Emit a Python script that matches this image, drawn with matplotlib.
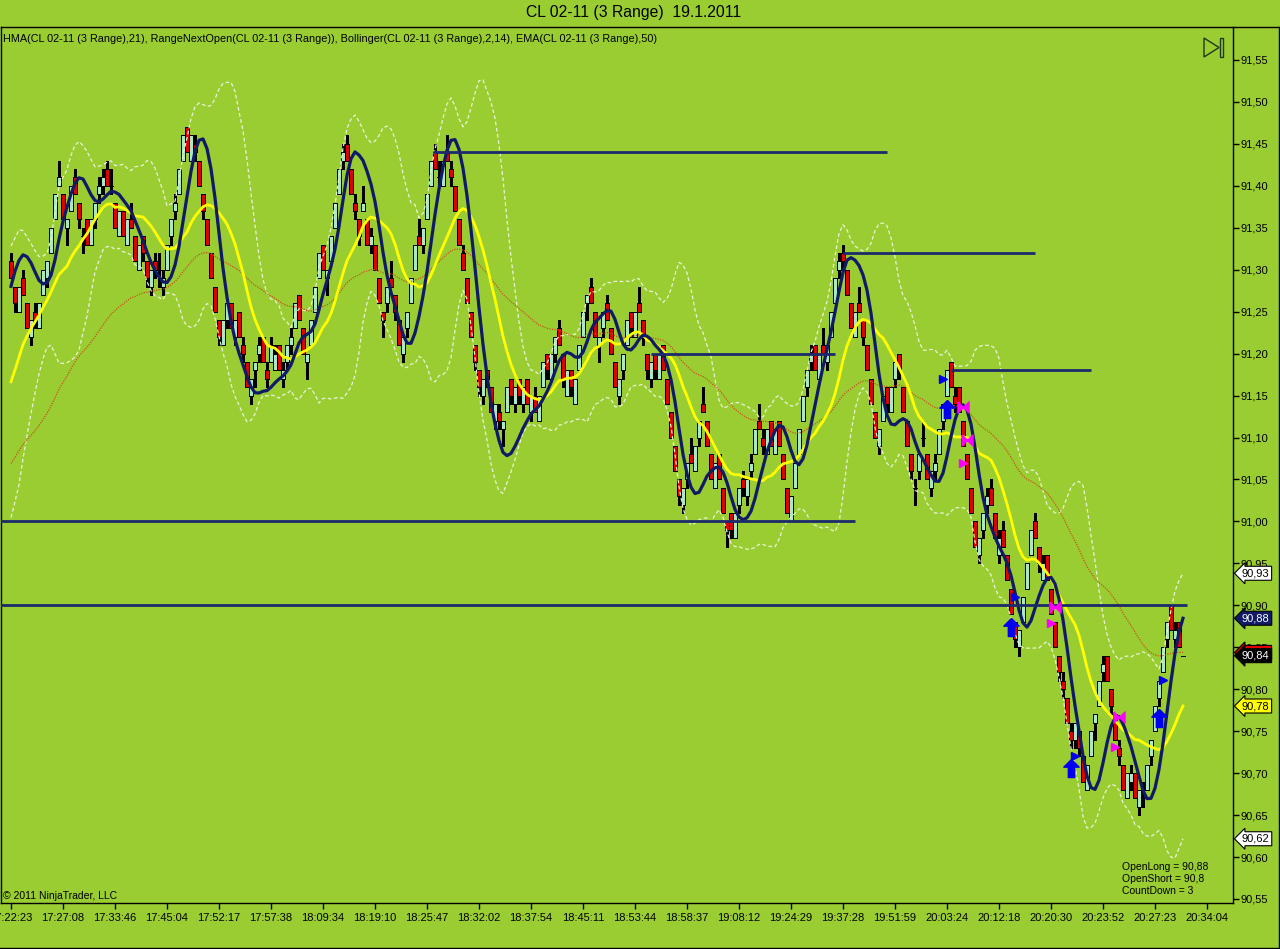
"""
CL 02-11 (3 Range) chart, 19.1.2011 - NinjaTrader style range-bar chart
with HMA(21), Bollinger(2,14), EMA(50) and RangeNextOpen markers.
"""
import numpy as np
import pandas as pd
import matplotlib
matplotlib.use("Agg")
import matplotlib.pyplot as plt
from matplotlib.path import Path
from matplotlib.patches import Polygon, Rectangle
from matplotlib.lines import Line2D

plt.rcParams["font.family"] = ["Liberation Sans", "DejaVu Sans"]

# ---- bar data, in cents above 90.00 --------------------------------------
bar_open = [
    131, 128, 125, 129, 126, 122, 125, 123, 127, 129,
    132, 136, 140, 139, 135, 137, 141, 138, 134, 136,
    133, 136, 139, 140, 142, 140, 138, 134, 137, 133,
    136, 134, 130, 134, 131, 128, 131, 130, 128, 130,
    134, 137, 139, 143, 147, 143, 145, 143, 139, 136,
    132, 128, 124, 121, 124, 126, 122, 125, 121, 119,
    115, 118, 120, 122, 118, 119, 118, 121, 117, 119,
    121, 123, 127, 123, 119, 121, 125, 129, 133, 129,
    131, 135, 139, 143, 145, 142, 138, 136, 137, 136,
    133, 133, 129, 125, 126, 129, 127, 124, 120, 123,
    126, 130, 134, 133, 136, 140, 144, 141, 140, 144,
    142, 140, 136, 132, 129, 125, 121, 118, 115, 118,
    116, 112, 113, 111, 113, 117, 114, 117, 114, 117,
    113, 115, 112, 116, 120, 117, 120, 123, 120, 115,
    118, 114, 118, 122, 126, 128, 125, 121, 123, 126,
    123, 119, 115, 118, 121, 125, 122, 126, 124, 120,
    117, 120, 117, 121, 117, 113, 109, 105, 102, 105,
    108, 106, 110, 114, 112, 108, 104, 108, 104, 100,
    101, 98, 102, 105, 103, 106, 108, 112, 110, 108,
    112, 108, 112, 108, 104, 100, 104, 108, 112, 116,
    119, 121, 117, 121, 119, 122, 126, 130, 132, 130,
    126, 122, 126, 124, 121, 117, 113, 109, 112, 116,
    113, 117, 120, 116, 112, 108, 104, 106, 110, 108,
    104, 106, 108, 112, 115, 119, 115, 116, 112, 108,
    104, 100, 96, 99, 102, 104, 101, 96, 99, 96,
    92, 88, 85, 88, 92, 96, 100, 97, 93, 96,
    92, 88, 84, 81, 79, 75, 74, 75, 72, 68,
    72, 76, 78, 82, 84, 80, 77, 73, 71, 67,
    69, 70, 66, 67, 68, 72, 75, 79, 82, 86,
    90, 86, 88, 84,
]
bar_close = [
    129, 126, 128, 127, 123, 124, 124, 126, 130, 131,
    135, 139, 141, 136, 136, 140, 139, 136, 134, 133,
    136, 138, 140, 141, 140, 140, 135, 137, 134, 136,
    135, 131, 133, 132, 129, 130, 130, 130, 129, 133,
    136, 138, 142, 146, 144, 146, 144, 140, 137, 133,
    129, 125, 122, 124, 126, 123, 124, 122, 120, 116,
    117, 119, 121, 119, 117, 121, 120, 118, 118, 121,
    122, 126, 124, 120, 120, 124, 128, 132, 130, 130,
    134, 138, 142, 144, 143, 139, 137, 134, 138, 133,
    134, 130, 126, 124, 128, 128, 125, 121, 122, 125,
    129, 133, 133, 135, 139, 143, 142, 141, 143, 143,
    141, 137, 133, 130, 126, 122, 119, 116, 117, 117,
    113, 114, 112, 112, 116, 115, 116, 115, 116, 114,
    115, 113, 115, 119, 118, 120, 122, 121, 117, 118,
    116, 117, 121, 125, 127, 126, 122, 122, 125, 124,
    120, 116, 117, 120, 124, 123, 125, 125, 122, 118,
    119, 118, 120, 118, 114, 110, 106, 103, 104, 107,
    107, 109, 112, 113, 109, 105, 107, 105, 101, 99,
    99, 101, 104, 104, 105, 107, 111, 111, 109, 111,
    109, 111, 109, 105, 101, 103, 107, 111, 115, 118,
    120, 118, 120, 120, 121, 125, 129, 131, 131, 127,
    123, 125, 125, 122, 118, 114, 110, 111, 115, 114,
    116, 119, 118, 113, 109, 106, 104, 108, 110, 105,
    106, 107, 111, 114, 118, 116, 114, 113, 109, 105,
    101, 97, 98, 101, 103, 102, 98, 98, 97, 93,
    89, 86, 87, 91, 95, 99, 98, 95, 95, 93,
    89, 85, 82, 80, 76, 74, 76, 73, 69, 71,
    75, 77, 81, 83, 81, 78, 74, 72, 68, 70,
    70, 67, 68, 67, 71, 74, 78, 81, 85, 88,
    87, 87, 85, 84,
]
bar_high = [
    132, 128, 128, 130, 126, 124, 126, 126, 130, 131,
    135, 139, 143, 139, 136, 140, 142, 138, 135, 136,
    136, 138, 141, 142, 143, 142, 138, 137, 137, 136,
    138, 134, 133, 134, 131, 130, 132, 132, 130, 133,
    136, 139, 142, 146, 147, 146, 146, 143, 139, 136,
    132, 128, 124, 124, 126, 126, 124, 125, 122, 119,
    117, 119, 122, 122, 119, 122, 121, 121, 119, 121,
    123, 126, 127, 123, 120, 124, 128, 132, 133, 130,
    134, 138, 142, 145, 146, 142, 139, 136, 140, 136,
    135, 133, 129, 125, 128, 131, 127, 124, 122, 125,
    129, 133, 136, 135, 139, 143, 145, 143, 143, 146,
    143, 140, 136, 133, 129, 125, 121, 118, 117, 118,
    116, 114, 114, 112, 116, 117, 116, 117, 116, 117,
    115, 116, 115, 119, 120, 120, 122, 124, 120, 118,
    118, 117, 121, 125, 127, 129, 125, 122, 125, 127,
    123, 119, 117, 120, 124, 125, 125, 128, 124, 120,
    119, 120, 120, 121, 117, 113, 109, 105, 104, 107,
    110, 109, 112, 116, 112, 108, 107, 108, 104, 100,
    101, 101, 104, 106, 105, 108, 111, 114, 111, 111,
    112, 111, 112, 108, 104, 103, 107, 111, 115, 118,
    121, 121, 120, 123, 121, 125, 129, 132, 133, 130,
    126, 125, 128, 124, 121, 117, 113, 111, 115, 116,
    116, 119, 120, 116, 112, 108, 105, 108, 112, 108,
    106, 108, 111, 114, 118, 119, 116, 116, 112, 108,
    104, 100, 98, 101, 104, 105, 101, 99, 100, 96,
    92, 88, 87, 91, 95, 99, 101, 97, 96, 96,
    92, 88, 84, 82, 79, 76, 76, 75, 72, 71,
    75, 77, 81, 84, 84, 80, 77, 74, 71, 70,
    71, 70, 68, 69, 71, 74, 78, 81, 85, 88,
    90, 88, 88, 84,
]
bar_low = [
    129, 125, 125, 127, 123, 121, 123, 123, 127, 128,
    132, 136, 140, 136, 133, 137, 139, 135, 132, 133,
    133, 135, 138, 139, 140, 139, 135, 134, 134, 133,
    135, 131, 130, 131, 128, 127, 129, 128, 127, 130,
    133, 136, 139, 143, 144, 143, 143, 140, 136, 133,
    129, 125, 121, 121, 123, 123, 121, 122, 119, 116,
    114, 116, 119, 119, 116, 119, 118, 118, 116, 118,
    120, 123, 124, 120, 117, 121, 125, 129, 130, 127,
    131, 135, 139, 142, 143, 139, 136, 133, 137, 133,
    132, 130, 126, 122, 125, 128, 124, 121, 119, 122,
    126, 130, 133, 132, 136, 140, 142, 140, 140, 143,
    140, 137, 133, 130, 126, 122, 118, 115, 114, 116,
    113, 111, 111, 109, 113, 114, 113, 114, 113, 114,
    112, 113, 112, 116, 117, 117, 119, 121, 116, 115,
    115, 114, 118, 122, 124, 126, 122, 119, 122, 124,
    120, 116, 114, 117, 121, 122, 122, 125, 121, 117,
    116, 117, 117, 118, 114, 110, 106, 102, 101, 104,
    107, 106, 109, 113, 109, 105, 104, 105, 101, 97,
    98, 98, 101, 103, 102, 105, 108, 111, 108, 108,
    109, 108, 109, 105, 101, 100, 104, 108, 112, 115,
    118, 118, 117, 120, 118, 122, 126, 129, 130, 127,
    123, 122, 125, 121, 118, 114, 110, 108, 112, 113,
    113, 116, 117, 113, 109, 105, 102, 105, 109, 105,
    103, 105, 108, 111, 115, 116, 113, 113, 109, 105,
    101, 97, 95, 98, 101, 102, 98, 95, 97, 93,
    89, 85, 84, 88, 92, 96, 98, 94, 93, 93,
    89, 85, 81, 79, 76, 73, 73, 72, 69, 68,
    72, 74, 78, 81, 81, 77, 74, 71, 68, 67,
    68, 67, 65, 66, 68, 71, 75, 78, 82, 85,
    87, 85, 85, 84,
]

# closes of the bars just before the visible window (indicator warm-up)
prior_closes = [100, 101, 99, 100, 102, 101, 103, 104, 103, 105, 104, 106,
                107, 106, 109, 111, 113, 115, 117, 119, 121, 124, 127, 129]
ema_seed = 106

# bottom axis labels, one every 13 bars
time_labels = ["17:22:23", "17:27:08", "17:33:46", "17:45:04", "17:52:17",
               "17:57:38", "18:09:34", "18:19:10", "18:25:47", "18:32:02",
               "18:37:54", "18:45:11", "18:53:44", "18:58:37", "19:08:12",
               "19:24:29", "19:37:28", "19:51:59", "20:03:24", "20:12:18",
               "20:20:30", "20:23:52", "20:27:23", "20:34:04"]
price_ticks = [90.55, 90.60, 90.65, 90.70, 90.75, 90.80, 90.85, 90.90,
               90.95, 91.00, 91.05, 91.10, 91.15, 91.20, 91.25, 91.30,
               91.35, 91.40, 91.45, 91.50, 91.55]

# drawn horizontal lines: price, first bar, last bar
hline_price = [91.44, 91.32, 91.20, 91.18, 91.00, 90.90]
hline_start = [105.5, 208, 160, 235, -3, -3]
hline_end = [219, 256, 206, 270, 211, 294]

# RangeNextOpen signals (bar index, price)
long_arrow_bar = [234, 250, 265, 287]
long_arrow_price = [91.134, 90.874, 90.706, 90.766]
long_tri_bar = [233, 251, 266, 288]
long_tri_price = [91.170, 90.910, 90.720, 90.811]
short_x_bar = [238, 239, 261, 277]
short_x_price = [91.136, 91.097, 90.898, 90.767]
short_tri_bar = [238, 260, 276]
short_tri_price = [91.070, 90.879, 90.731]

info_lines = ["OpenLong = 90,88", "OpenShort = 90,8", "CountDown = 3"]

# ---- indicators -----------------------------------------------------------
n = len(bar_close)
o = np.array(bar_open) / 100 + 90
c = np.array(bar_close) / 100 + 90
h = np.array(bar_high) / 100 + 90
l = np.array(bar_low) / 100 + 90
full = np.concatenate([np.array(prior_closes) / 100 + 90, c])
k = len(prior_closes)


def wma(x, p):
    w = np.arange(1, p + 1, dtype=float)
    out = np.full(len(x), np.nan)
    for i in range(p - 1, len(x)):
        out[i] = np.dot(x[i - p + 1:i + 1], w) / w.sum()
    return out


hma = wma(2 * wma(full, 10) - wma(full, 21), 4)[k:]
s = pd.Series(full)
mid = s.rolling(14).mean().values[k:]
sd = s.rolling(14).std(ddof=0).values[k:]
upper, lower = mid + 2 * sd, mid - 2 * sd
ema = np.empty(n)
prev = 90 + ema_seed / 100
for i in range(n):
    prev = prev + 2 / 51 * (c[i] - prev)
    ema[i] = prev

# ---- figure ---------------------------------------------------------------
BG = "#9ACD32"
W, H = 1280, 949
fig = plt.figure(figsize=(W / 100, H / 100), dpi=100, facecolor=BG)


def fx(px):
    return px / W


def fy(py):
    return 1 - py / H


ax = fig.add_axes([fx(1), fy(903), fx(1232), 876 / H], facecolor=BG)
ax.set_xlim(-2.5, 305.5)
ax.set_ylim(90.5452, 91.5893)

x = np.arange(n)
up = c >= o
colors = ["#A9E8C4" if u else "#E00000" for u in up]
ax.vlines(x, l, h, color="black", lw=0.8, zorder=2, antialiased=False)
ax.bar(x, np.abs(c - o), bottom=np.minimum(o, c), width=0.88, color=colors,
       edgecolor="black", linewidth=0.7, zorder=3, antialiased=False)

dash = (0, (3, 2))
ax.plot(x, upper, color="#EAF3D8", lw=0.9, ls=dash, zorder=4)
ax.plot(x, lower, color="#EAF3D8", lw=0.9, ls=dash, zorder=4)
ax.plot(x, ema, color="#C4541E", lw=0.9, ls=(0, (1, 1)), zorder=4)
ax.plot(x, mid, color="#FFFF00", lw=2.0, zorder=5)
ax.plot(x, hma, color="#101A66", lw=2.3, zorder=6)
ax.hlines(hline_price, hline_start, hline_end, color="#1B2A6B", lw=2.0,
          zorder=6)

arrow = Path([(0, 1), (0.85, 0.15), (0.35, 0.15), (0.35, -1), (-0.35, -1),
              (-0.35, 0.15), (-0.85, 0.15), (0, 1)])
bowtie = Path([(-1, 1), (1, -1), (1, 1), (-1, -1), (-1, 1)])
ax.plot(long_arrow_bar, long_arrow_price, ls="none", marker=arrow, ms=13,
        color="#0000EE", mec="#0000EE", zorder=7)
ax.plot(long_tri_bar, long_tri_price, ls="none", marker=">", ms=6,
        color="#0000EE", mec="#0000EE", zorder=7)
ax.plot(short_x_bar, short_x_price, ls="none", marker=bowtie, ms=8,
        color="#FF00FF", mec="#FF00FF", zorder=7)
ax.plot(short_tri_bar, short_tri_price, ls="none", marker=">", ms=6,
        color="#FF00FF", mec="#FF00FF", zorder=7)

# axes styling
for side in ["left", "top", "right", "bottom"]:
    ax.spines[side].set_color("black")
    ax.spines[side].set_linewidth(1.0)
ax.yaxis.tick_right()
ax.set_yticks(price_ticks)
ax.set_yticklabels([f"{p:.2f}".replace(".", ",") for p in price_ticks])
ax.set_xticks(np.arange(len(time_labels)) * 13)
ax.set_xticklabels(time_labels)
ax.tick_params(axis="y", direction="out", length=4, width=1, pad=1.5,
               labelsize=8, colors="black")
ax.tick_params(axis="x", direction="out", length=4, width=1, pad=3,
               labelsize=8, colors="black")

# value tags on the price axis (price shown truncated to the tick)
tags = [(upper[-1], "white", "black"), (hma[-1], "#101A66", "white"),
        (ema[-1], "#E00000", "white"), (c[-1], "black", "white"),
        (mid[-1], "#FFFF00", "black"), (lower[-1], "white", "black")]
for val, face, txt in tags:
    shown = np.floor(val * 100 + 1e-6) / 100
    ax.annotate(f"{shown:.2f}".replace(".", ","), xy=(1, val),
                xycoords=ax.get_yaxis_transform(),
                xytext=(1 + 9 / 1232, val), textcoords=ax.get_yaxis_transform(),
                ha="left", va="center", fontsize=8, color=txt,
                bbox=dict(boxstyle="larrow,pad=0.18", fc=face, ec="black",
                          lw=0.8), annotation_clip=False, zorder=8)

# texts
fig.text(fx(634), fy(13), "CL 02-11 (3 Range)  19.1.2011", ha="center",
         va="center", fontsize=11.3)
fig.text(fx(3), fy(39), "HMA(CL 02-11 (3 Range),21), RangeNextOpen(CL 02-11 "
         "(3 Range)), Bollinger(CL 02-11 (3 Range),2,14), EMA(CL 02-11 "
         "(3 Range),50)", ha="left", va="center", fontsize=7.8)
fig.text(fx(3), fy(896), "© 2011 NinjaTrader, LLC", ha="left", va="center",
         fontsize=7.5)
for j, line in enumerate(info_lines):
    fig.text(fx(1122), fy(867 + 12 * j), line, ha="left", va="center",
             fontsize=7.5)

# jump-to-end icon
tri = Polygon([(fx(1204), fy(38)), (fx(1204), fy(57)), (fx(1219), fy(47.5))],
              closed=True, fill=False, ec="#1E3A1E", lw=1,
              transform=fig.transFigure)
bar_icon = Rectangle((fx(1220), fy(57)), fx(3), 19 / H, fill=False,
                     ec="#1E3A1E", lw=1, transform=fig.transFigure)
fig.patches.extend([tri, bar_icon])

# outer frame
fig.add_artist(Line2D([fx(1233), 1], [fy(27), fy(27)], color="black", lw=1))
fig.add_artist(Line2D([fx(1278.5), fx(1278.5)], [fy(27), fy(947.5)],
                      color="black", lw=1))
fig.add_artist(Line2D([0, fx(1278.5)], [fy(947.5), fy(947.5)], color="black",
                      lw=1))

fig.savefig("out.png", dpi=100, facecolor=BG)
